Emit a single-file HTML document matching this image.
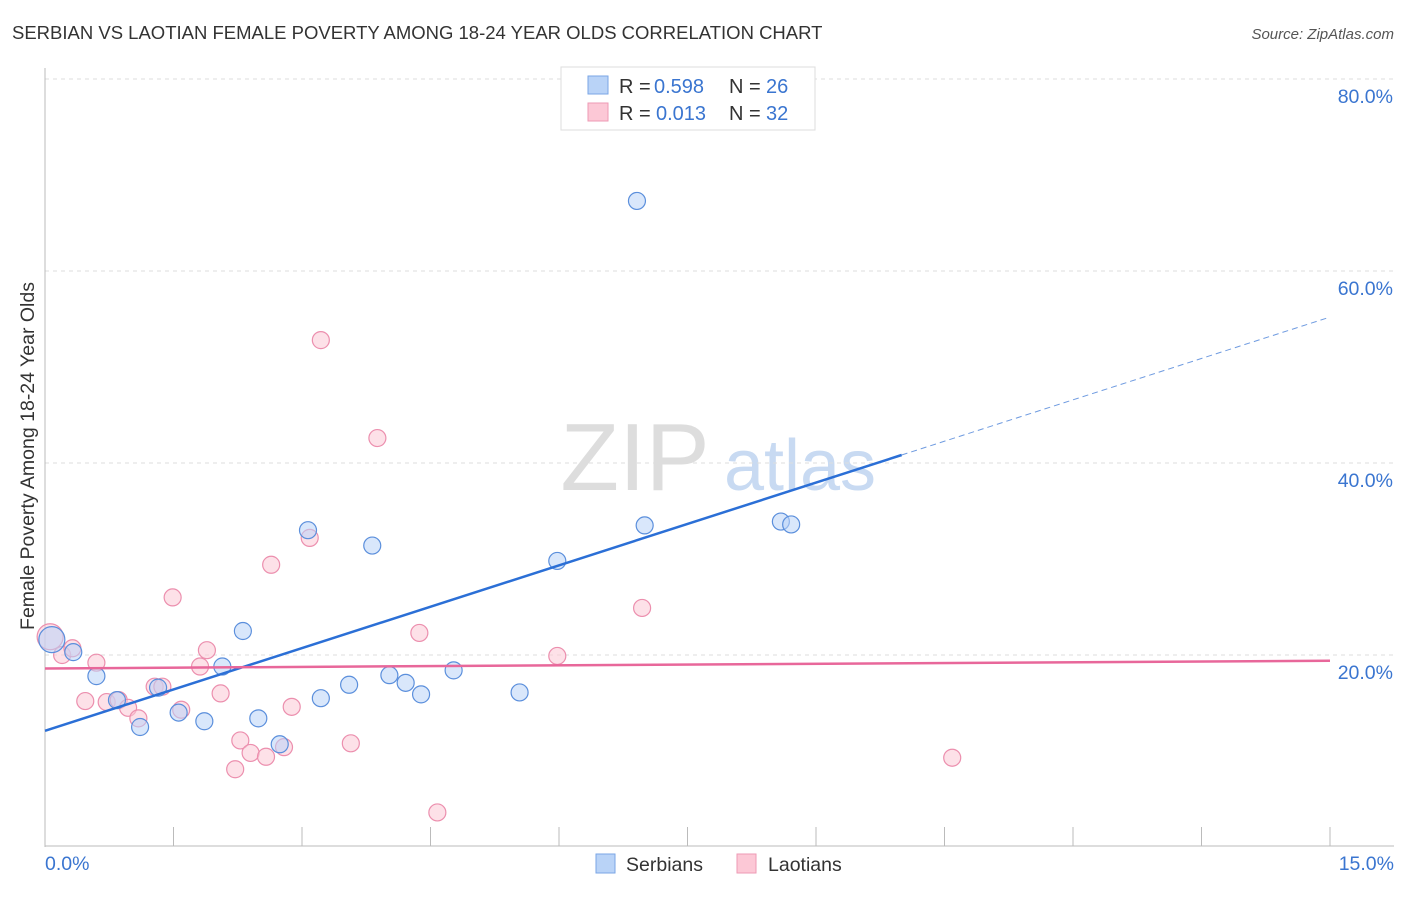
<!DOCTYPE html>
<html><head><meta charset="utf-8"><style>
body{margin:0;background:#fff;font-family:"Liberation Sans",sans-serif;}
svg text{font-family:"Liberation Sans",sans-serif;}
</style></head><body>
<svg id="c" width="1406" height="892">
<text x="12" y="39" font-size="18.5" fill="#333">SERBIAN VS LAOTIAN FEMALE POVERTY AMONG 18-24 YEAR OLDS CORRELATION CHART</text>
<text x="1394" y="39" font-size="15" fill="#555" font-style="italic" text-anchor="end">Source: ZipAtlas.com</text>
<text transform="translate(34,456) rotate(-90)" font-size="19.5" fill="#333" text-anchor="middle">Female Poverty Among 18-24 Year Olds</text>
<g><text x="635" y="490" font-size="96" fill="#ddd" font-family="Liberation Serif" text-anchor="middle">ZIP</text><text x="800" y="490" font-size="72" fill="#c8daf2" text-anchor="middle">atlas</text></g>
<g id="grid"></g><g id="axes"></g><g id="marks"></g>
<g>
<rect x="561" y="67" width="254" height="63" fill="#fff" stroke="#ddd"/>
<rect x="588" y="76" width="20" height="18" fill="#b9d3f7" stroke="#7aa6e6"/>
<rect x="588" y="103" width="20" height="18" fill="#fcc8d6" stroke="#ee9ab4"/>
<text x="619" y="93" font-size="20" fill="#333">R =</text><text x="654" y="93" font-size="20" fill="#3a75d0">0.598</text>
<text x="729" y="93" font-size="20" fill="#333">N =</text><text x="766" y="93" font-size="20" fill="#3a75d0">26</text>
<text x="619" y="120" font-size="20" fill="#333">R =</text><text x="656" y="120" font-size="20" fill="#3a75d0">0.013</text>
<text x="729" y="120" font-size="20" fill="#333">N =</text><text x="766" y="120" font-size="20" fill="#3a75d0">32</text>
</g>
<g>
<rect x="596" y="854" width="19" height="19" fill="#b9d3f7" stroke="#7aa6e6"/>
<text x="626" y="871" font-size="19.5" fill="#333">Serbians</text>
<rect x="737" y="854" width="19" height="19" fill="#fcc8d6" stroke="#ee9ab4"/>
<text x="768" y="871" font-size="19.5" fill="#333">Laotians</text>
</g>
</svg>
<script>
const blueX=[0.08,0.33,0.60,0.84,1.11,1.32,1.56,1.86,2.07,2.31,2.49,2.74,3.07,3.22,3.55,3.82,4.02,4.21,4.39,4.77,5.54,5.98,6.91,7.00,8.59,8.71];
const blueY=[21.6,20.3,17.8,15.3,12.5,16.6,14.0,13.1,18.8,22.5,13.4,10.7,33.0,15.5,16.9,31.4,17.9,17.1,15.9,18.4,16.1,29.8,67.3,33.5,33.9,33.6];
const pinkX=[0.06,0.20,0.32,0.47,0.60,0.72,0.86,0.97,1.09,1.28,1.37,1.49,1.59,1.81,1.89,2.05,2.22,2.28,2.40,2.58,2.64,2.79,2.88,3.09,3.22,3.57,3.88,4.37,4.58,5.98,6.97,10.59];
const pinkY=[21.9,20.0,20.7,15.2,19.2,15.1,15.3,14.5,13.4,16.7,16.7,26.0,14.3,18.8,20.5,16.0,8.1,11.1,9.8,9.4,29.4,10.4,14.6,32.2,52.8,10.8,42.6,22.3,3.6,19.9,24.9,9.3];
const blueTrend=[12.1,55.2];
const pinkTrend=[18.6,19.4];
const yTicks=[20,40,60,80];
const ns="http://www.w3.org/2000/svg";
const X=v=>45+v*(1285/15), Y=v=>847-v*9.6;
function mk(t,a,p){const e=document.createElementNS(ns,t);for(const k in a)e.setAttribute(k,a[k]);document.getElementById(p).appendChild(e);return e;}
yTicks.forEach(t=>{
 const g=mk('line',{x1:45,x2:1394,y1:Y(t),y2:Y(t),stroke:'#ddd','stroke-dasharray':'4,4'},'grid');
 
 
 const l=mk('text',{x:1393,y:Y(t)+24,'font-size':19.5,fill:'#3a75d0','text-anchor':'end'},'axes');l.textContent=t.toFixed(1)+'%';
 
 
});
const ax=mk('line',{x1:45,x2:45,y1:68,y2:847,stroke:'#bbb'},'axes');


const bx=mk('line',{x1:45,x2:1394,y1:846,y2:846,stroke:'#bbb'},'axes');


for(let i=1;i<=10;i++){const t=mk('line',{x1:X(i*1.5),x2:X(i*1.5),y1:827,y2:846,stroke:'#bbb'},'axes');
 
 }
[[0,'0.0%','start',45],[15,'15.0%','end',1394]].forEach(a=>{const t=mk('text',{x:a[3],y:870,'font-size':19.5,fill:'#3a75d0','text-anchor':a[2]},'axes');t.textContent=a[1];
 
 });
function pts(xs,ys,fill,stroke,name){xs.forEach((x,i)=>{const c=mk('circle',{cx:X(x),cy:Y(ys[i]),r:i===0?13:8.5,fill:fill,'fill-opacity':0.55,stroke:stroke,'stroke-width':1.2},'marks');
 
 });}
pts(pinkX,pinkY,'#fcc8d6','#ec8fae','laotian-point');
pts(blueX,blueY,'#b9d3f7','#5b8fdc','serbian-point');
const bl=v=>blueTrend[0]+(blueTrend[1]-blueTrend[0])*v/15;
const t1=mk('line',{x1:X(0),y1:Y(bl(0)),x2:X(10),y2:Y(bl(10)),stroke:'#2b6fd6','stroke-width':2.5},'marks');


const t2=mk('line',{x1:X(10),y1:Y(bl(10)),x2:X(15),y2:Y(bl(15)),stroke:'#6f9be0','stroke-width':1,'stroke-dasharray':'6,4'},'marks');


const t3=mk('line',{x1:X(0),y1:Y(pinkTrend[0]),x2:X(15),y2:Y(pinkTrend[1]),stroke:'#e8679a','stroke-width':2.5},'marks');


</script>
</body></html>
